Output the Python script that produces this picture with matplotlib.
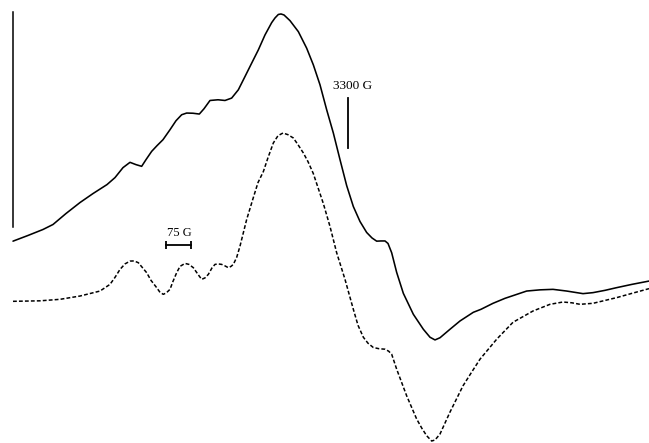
import matplotlib
matplotlib.use("Agg")
import matplotlib.pyplot as plt

# EPR spectra, field in gauss, intensity in arbitrary units
field_exp = [2295, 2340, 2385, 2415, 2454, 2496, 2535, 2577, 2601, 2625, 2646, 2664,
             2681, 2694, 2711, 2727, 2745, 2766, 2784, 2801, 2816, 2835, 2854, 2868,
             2886, 2910, 2931, 2951, 2971, 2991, 3011, 3031, 3051, 3071, 3081, 3091,
             3099, 3108, 3126, 3151, 3176, 3196, 3216, 3236, 3256, 3276, 3296, 3316,
             3336, 3356, 3372, 3386, 3399, 3411, 3420, 3431, 3446, 3466, 3496, 3526,
             3546, 3561, 3576, 3606, 3636, 3676, 3699, 3735, 3771, 3836, 3876, 3915,
             3956, 4005, 4035, 4071, 4106, 4152, 4203]
signal_exp = [58.3, 64, 70, 75, 86, 97, 106, 115, 122, 132, 137.3, 135,
              133.3, 140, 148.3, 154, 160, 170, 179, 185, 186.7, 186.5, 185.7, 191,
              199.3, 200, 199.3, 201.7, 210, 223.3, 236.7, 250, 265, 277.3, 282, 285.5,
              286, 285, 279.3, 268.3, 251.7, 235, 215, 190, 166.7, 140, 114, 93,
              78, 67, 61.5, 58.3, 58.5, 58.5, 56, 46.7, 27, 6, -15, -30,
              -38, -40.7, -38.5, -30, -21.7, -13, -10, -4, 1, 8.3, 9.5, 10,
              8.3, 5.7, 6.7, 9, 11.7, 15, 18.3]

field_sim = [2295, 2376, 2436, 2496, 2556, 2586, 2601, 2616, 2631, 2646, 2658, 2671,
             2696, 2709, 2726, 2736, 2746, 2755, 2766, 2775, 2786, 2796, 2811, 2823,
             2836, 2850, 2861, 2871, 2881, 2892, 2901, 2910, 2921, 2931, 2941, 2949,
             2956, 2966, 2976, 2986, 2996, 3016, 3030, 3046, 3060, 3076, 3090, 3105,
             3120, 3136, 3150, 3166, 3180, 3196, 3210, 3226, 3246, 3266, 3291, 3316,
             3330, 3346, 3360, 3376, 3393, 3411, 3422, 3431, 3446, 3476, 3506, 3522,
             3536, 3551, 3561, 3576, 3606, 3645, 3669, 3696, 3746, 3795, 3855, 3906,
             3945, 3972, 3996, 4035, 4106, 4152, 4203]
signal_sim = [-2, -1.5, 0, 3.3, 8.3, 15, 22, 30, 35.5, 38.3, 38.5, 36.7,
              26.7, 19, 11.7, 7, 5, 6.5, 10, 18, 26.7, 33, 36, 35,
              31.7, 25, 20, 21.5, 25, 31.5, 35, 35.5, 35, 33.5, 31.7, 33,
              35, 42, 53.3, 66.7, 80, 102, 117, 128, 142, 156.7, 164, 166.7,
              165, 161.7, 155, 146.7, 138, 126, 112, 96, 73, 46.7, 20, -10,
              -26, -38, -44, -48.3, -49.5, -50, -52, -55, -70, -96.7, -120, -129.5,
              -136.7, -142, -141, -135, -113, -86.7, -74, -60, -40, -23, -11.7, -5,
              -2.7, -3.5, -5, -4, 1.7, 6, 10.7]

# scale markers
g_marker = 3300
bar_start, bar_len = 2754, 75

fig = plt.figure(figsize=(6.49, 4.43), dpi=100)
ax = fig.add_axes([0, 0, 1, 1])

ax.plot(field_exp, signal_exp, color="black", lw=1.15,
        solid_joinstyle="round", solid_capstyle="round")
ax.plot(field_sim, signal_sim, color="black", lw=1.1, dashes=(2.5, 1.4))

# intensity bar on the left
ax.plot([2295, 2295], [72, 288], color="black", lw=1.1)

# 3300 G marker
ax.plot([g_marker, g_marker], [152, 202], color="black", lw=1.3)
ax.text(g_marker + 15, 208, "3300 G", ha="center", va="bottom",
        family="Liberation Serif", fontsize=9.5)

# 75 G scale bar
ax.plot([bar_start, bar_start + bar_len], [54, 54], color="black", lw=1.3,
        marker="|", markersize=6, markeredgewidth=1.3)
ax.text(bar_start + bar_len / 2 + 3, 60, "75 G", ha="center", va="bottom",
        family="Liberation Serif", fontsize=9)

ax.set_xlim(2256, 4203)
ax.set_ylim(-144, 300)
ax.axis("off")

fig.savefig("out.png", dpi=100)
